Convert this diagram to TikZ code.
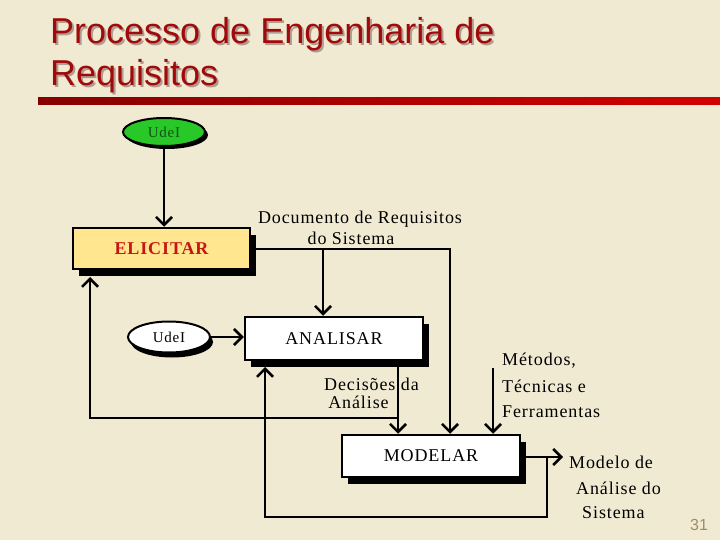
\documentclass[tikz,border=0pt]{standalone}
\usepackage{fontspec}
\setmainfont{Liberation Serif}[LetterSpace=5]
\newfontfamily\titlefont{Liberation Sans}
\newfontfamily\numfont{Liberation Sans}
\usetikzlibrary{arrows.meta,shapes.geometric}
\definecolor{bg}{RGB}{241,234,211}
\definecolor{titlered}{RGB}{160,10,10}
\definecolor{tshadow}{RGB}{175,155,145}
\definecolor{barl}{RGB}{135,0,0}
\definecolor{barr}{RGB}{210,0,0}
\definecolor{elicfill}{RGB}{255,230,143}
\definecolor{elictext}{RGB}{200,20,20}
\definecolor{udeigreen}{RGB}{40,200,40}
\definecolor{udeitext}{RGB}{20,80,20}
\definecolor{pagenum}{RGB}{160,140,100}
\newcommand{\shadowed}[1]{\makebox[0pt][l]{\hspace{2pt}\raisebox{-2pt}{\textcolor{tshadow}{#1}}}#1}
\tikzset{
  procbox/.style={rectangle, draw=black, line width=2.5pt, fill=white, inner sep=0pt,
    preaction={fill=black, transform canvas={xshift=6pt,yshift=-7pt}},
    font=\fontsize{18}{20}\selectfont},
  udeioval/.style={ellipse, draw=black, line width=2pt, inner sep=0pt,
    minimum width=82pt, font=\fontsize{15}{16}\selectfont},
  arr/.style={line width=2.5pt, -{Straight Barb[length=8pt,width=16pt]}},
  lbl/.style={inner sep=0pt, font=\fontsize{18}{20}\selectfont},
  titletext/.style={inner sep=0pt, anchor=base west, text=titlered,
    font=\titlefont\fontsize{36}{36}\selectfont}
}
\begin{document}
\begin{tikzpicture}[x=1pt,y=-1pt]
\fill[bg] (0,0) rectangle (720,540);
\useasboundingbox (0,0) rectangle (720,540);

% title
\node[titletext] (t1) at (50,44) {\shadowed{Processo de Engenharia de}};
\node[titletext] (t2) at (50,86) {\shadowed{Requisitos}};
\shade[left color=barl, right color=barr] (38,98) rectangle (720,105);

% nodes
\node[udeioval, fill=udeigreen, text=udeitext, minimum height=28pt,
  preaction={fill=black, transform canvas={xshift=3pt,yshift=-3pt}}] (udei1) at (164,132) {UdeI};
\node[udeioval, fill=white, minimum height=31pt,
  preaction={fill=black, transform canvas={xshift=3pt,yshift=-5pt}}] (udei2) at (169,337) {UdeI};

\node[procbox, fill=elicfill, text=elictext, minimum width=177pt, minimum height=41pt,
  font=\fontsize{18}{20}\selectfont\bfseries] (elicitar) at (161.5,248.5) {ELICITAR};
\node[procbox, minimum width=178pt, minimum height=43pt] (analisar) at (334,338.5) {ANALISAR};
\node[procbox, minimum width=178pt, minimum height=42pt] (modelar) at (431,456) {MODELAR};

% coordinates
\coordinate (c1) at (450,249);
\coordinate (c2) at (323,249);
\coordinate (d1) at (398,360);
\coordinate (d2) at (398,418);
\coordinate (f1) at (90,418);
\coordinate (f2) at (90,277);
\coordinate (o1) at (563,457);
\coordinate (g1) at (547,457);
\coordinate (g2) at (547,517);
\coordinate (g3) at (265,517);
\coordinate (g4) at (265,367);
\coordinate (m1) at (493,368);

% connectors
\draw[arr] (udei1.south) -- (udei1.south |- elicitar.north);
\draw[arr] (elicitar.east |- c1) -- (c1) -- (c1 |- modelar.north);
\draw[arr] (c2) -- (c2 |- analisar.north);
\draw[arr] (udei2.east) -- (udei2.east -| analisar.west);
\draw[arr] (d1) -- (d1 |- modelar.north);
\draw[arr] (d2) -- (f1) -- (f2);
\draw[arr] (modelar.east |- o1) -- (o1);
\draw[arr] (g1) -- (g2) -- (g3) -- (g4);
\draw[arr] (m1) -- (m1 |- modelar.north);

% labels
\node[lbl, anchor=base] (doc1) at (360,224) {Documento de Requisitos};
\node[lbl, anchor=base] (doc2) at (351,244) {do Sistema};
\node[lbl, anchor=base] (dec1) at (371.5,390) {Decisões da};
\node[lbl, anchor=base] (dec2) at (358.5,408) {Análise};
\node[lbl, anchor=base west] (met1) at (502,365) {Métodos,};
\node[lbl, anchor=base west] (met2) at (502,392) {Técnicas e};
\node[lbl, anchor=base west] (met3) at (502,417) {Ferramentas};
\node[lbl, anchor=base west] (mod1) at (569,468) {Modelo de};
\node[lbl, anchor=base west] (mod2) at (576,494) {Análise do};
\node[lbl, anchor=base west] (mod3) at (582,518) {Sistema};
\node[inner sep=0pt, anchor=base west, text=pagenum, font=\numfont\fontsize{16}{16}\selectfont] (pn) at (690,530) {31};
\end{tikzpicture}
\end{document}
